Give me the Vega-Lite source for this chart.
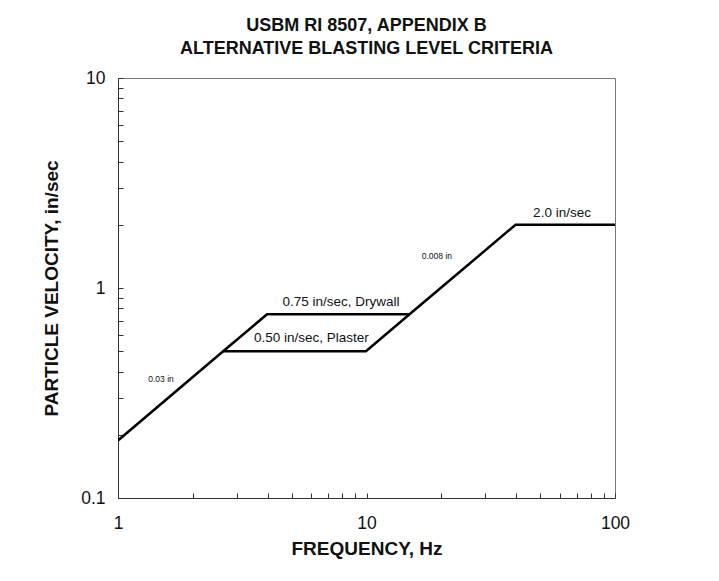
{
  "$schema": "https://vega.github.io/schema/vega-lite/v6.json",
  "width": 497,
  "height": 420,
  "autosize": {"type": "none"},
  "padding": {"left": 118, "top": 78, "right": 104, "bottom": 83},
  "background": "white",
  "title": {
    "text": ["USBM RI 8507, APPENDIX B", "ALTERNATIVE BLASTING LEVEL CRITERIA"],
    "font": "Liberation Sans",
    "fontSize": 18,
    "fontWeight": "bold",
    "color": "#111",
    "lineHeight": 23,
    "anchor": "middle",
    "offset": 11
  },
  "config": {
    "view": {"stroke": "#777", "strokeWidth": 1},
    "axis": {
      "grid": false,
      "domainColor": "#333",
      "tickColor": "#333",
      "labelFont": "Liberation Sans",
      "labelFontSize": 17.5,
      "labelColor": "#111",
      "labelFlush": false,
      "titleFont": "Liberation Sans",
      "titleFontSize": 19,
      "titleFontWeight": "bold",
      "titleColor": "#111"
    }
  },
  "datasets": {
    "lines": [
      {"series": "A", "f": 1, "v": 0.188},
      {"series": "A", "f": 2.65, "v": 0.5},
      {"series": "A", "f": 3.98, "v": 0.75},
      {"series": "A", "f": 14.9, "v": 0.75},
      {"series": "B", "f": 2.65, "v": 0.5},
      {"series": "B", "f": 9.95, "v": 0.5},
      {"series": "B", "f": 14.9, "v": 0.75},
      {"series": "B", "f": 39.8, "v": 2.0},
      {"series": "B", "f": 100, "v": 2.0}
    ],
    "labels": [
      {"label": "0.75 in/sec, Drywall", "f": 7.9, "v": 0.86, "size": 13.5},
      {"label": "0.50 in/sec, Plaster", "f": 6.0, "v": 0.575, "size": 13.5},
      {"label": "2.0 in/sec", "f": 61.2, "v": 2.28, "size": 13.5},
      {"label": "0.008 in", "f": 19.2, "v": 1.42, "size": 8.5},
      {"label": "0.03 in", "f": 1.49, "v": 0.369, "size": 8.5}
    ]
  },
  "layer": [
    {
      "data": {"name": "lines"},
      "mark": {"type": "line", "color": "black", "strokeWidth": 2.5, "clip": true},
      "encoding": {
        "x": {
          "field": "f", "type": "quantitative",
          "scale": {"type": "log", "domain": [1, 100]},
          "axis": {
            "title": "FREQUENCY, Hz",
            "values": [1,2,3,4,5,6,7,8,9,10,20,30,40,50,60,70,80,90,100],
            "labelExpr": "indexof([1,10,100], datum.value) >= 0 ? format(datum.value, '~g') : ''",
            "tickSize": -5,
            "labelPadding": 21,
            "titlePadding": 8
          }
        },
        "y": {
          "field": "v", "type": "quantitative",
          "scale": {"type": "log", "domain": [0.1, 10]},
          "axis": {
            "title": "PARTICLE VELOCITY, in/sec",
            "values": [0.1,0.2,0.3,0.4,0.5,0.6,0.7,0.8,0.9,1,2,3,4,5,6,7,8,9,10],
            "labelExpr": "indexof([0.1,1,10], datum.value) >= 0 ? format(datum.value, '~g') : ''",
            "tickSize": -5,
            "labelPadding": 18,
            "titlePadding": 19
          }
        },
        "detail": {"field": "series"}
      }
    },
    {
      "data": {"name": "labels"},
      "mark": {"type": "text", "font": "Liberation Sans", "color": "#111", "align": "center", "baseline": "middle"},
      "encoding": {
        "x": {"field": "f", "type": "quantitative"},
        "y": {"field": "v", "type": "quantitative"},
        "text": {"field": "label"},
        "size": {"field": "size", "type": "quantitative", "scale": null}
      }
    }
  ]
}
